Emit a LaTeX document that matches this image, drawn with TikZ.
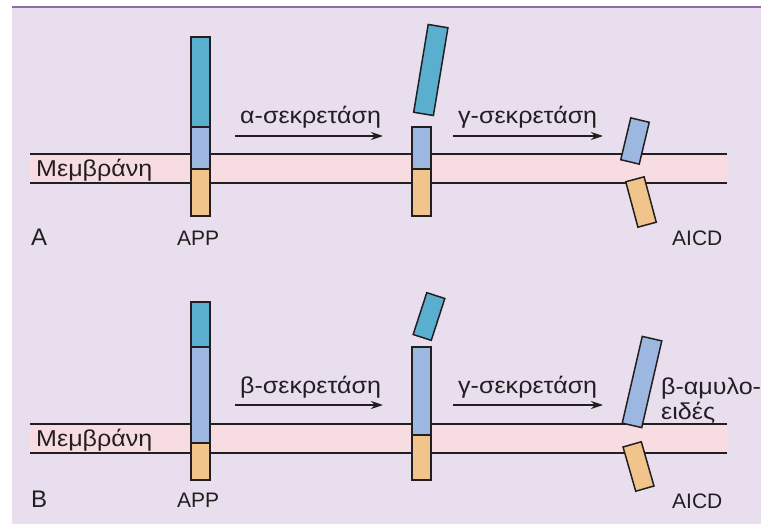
\documentclass[tikz,border=0pt]{standalone}
\usepackage{fontspec}
\setmainfont{Liberation Sans}
\newfontfamily\grkfont[FakeStretch=1.09]{Liberation Sans}
\usetikzlibrary{arrows.meta}
\definecolor{bgc}{HTML}{E8DEEE}
\definecolor{topline}{HTML}{8E6AA8}
\definecolor{memc}{HTML}{F7DDE1}
\definecolor{dkblue}{HTML}{5AAFCF}
\definecolor{ltblue}{HTML}{9DB8E0}
\definecolor{orng}{HTML}{F0C48A}
\definecolor{ink}{HTML}{231F20}
\tikzset{
  seg/.style={draw=ink, line width=1.5pt, inner sep=0pt, outer sep=0pt, minimum width=19pt},
  frag/.style={seg, minimum width=19pt},
  lbl/.style={text=ink, font=\fontsize{21}{25}\selectfont, inner sep=0pt, anchor=base west},
  glbl/.style={text=ink, font=\grkfont\fontsize{23}{25}\selectfont, inner sep=0pt, anchor=base west},
  panel/.style={text=ink, font=\fontsize{24}{28}\selectfont, inner sep=0pt, anchor=base west},
  memline/.style={draw=ink, line width=1.5pt},
  proc/.style={draw=ink, line width=1.6pt, -{Stealth[length=12pt,width=8pt]}}
}
\begin{document}
\begin{tikzpicture}[x=1pt,y=-1pt]
\useasboundingbox (0,0) rectangle (761,524);
\fill[bgc] (12,7) rectangle (761,524);
\draw[topline, line width=1.5pt] (12,7) -- (761,7);

% ---------- Panel A ----------
\fill[memc] (30,154) rectangle (727,183);
\draw[memline] (30,154) coordinate (amt1) -- (727,154) coordinate (amt2);
\draw[memline] (30,183) coordinate (amb1) -- (727,183) coordinate (amb2);
\node[glbl] (memA) at (36,177) {Μεμβράνη};

% APP A
\node[seg, fill=dkblue, minimum height=90pt] (a1d) at (200.5,82) {};
\node[seg, fill=ltblue, minimum height=42pt] (a1l) at (200.5,148) {};
\node[seg, fill=orng, minimum height=47pt] (a1o) at (200.5,192.5) {};
\node[lbl] (appA) at (177,245) {APP};
\node[panel] (pA) at (31,245) {A};

% arrow alpha
\coordinate (aa1) at (235,136);
\coordinate (aa2) at (383,136);
\draw[proc] (aa1) -- (aa2);
\node[glbl] (alphaA) at (240,124) {α-σεκρετάση};

% middle A
\node[frag, fill=dkblue, minimum width=20pt, minimum height=89pt, rotate=-9.4] (a2d) at (430.8,70) {};
\node[seg, fill=ltblue, minimum height=42pt] (a2l) at (421.5,148) {};
\node[seg, fill=orng, minimum height=47pt] (a2o) at (421.5,192.5) {};

% arrow gamma A
\coordinate (ga1) at (453,136);
\coordinate (ga2) at (603,136);
\draw[proc] (ga1) -- (ga2);
\node[glbl] (gammaA) at (458,124) {γ-σεκρετάση};

% AICD A
\node[frag, fill=ltblue, minimum height=43pt, rotate=-13.5] (a3l) at (635,141) {};
\node[frag, fill=orng, minimum height=47pt, rotate=15] (a3o) at (641,202) {};
\node[lbl] (aicdA) at (672,245) {AICD};

% ---------- Panel B ----------
\fill[memc] (30,424) rectangle (727,453);
\draw[memline] (30,424) coordinate (bmt1) -- (727,424) coordinate (bmt2);
\draw[memline] (30,453) coordinate (bmb1) -- (727,453) coordinate (bmb2);
\node[glbl] (memB) at (36,446) {Μεμβράνη};

% APP B
\node[seg, fill=dkblue, minimum height=45pt] (b1d) at (200.5,324.5) {};
\node[seg, fill=ltblue, minimum height=96pt] (b1l) at (200.5,395) {};
\node[seg, fill=orng, minimum height=37pt] (b1o) at (200.5,461.5) {};
\node[lbl] (appB) at (177,507) {APP};
\node[panel] (pB) at (31,507) {B};

% arrow beta
\coordinate (ba1) at (235,405);
\coordinate (ba2) at (383,405);
\draw[proc] (ba1) -- (ba2);
\node[glbl] (betaB) at (240,393) {β-σεκρετάση};

% middle B
\node[frag, fill=dkblue, minimum height=44pt, rotate=-18] (b2d) at (429,316.5) {};
\node[seg, fill=ltblue, minimum height=88pt] (b2l) at (421.5,391) {};
\node[seg, fill=orng, minimum height=45pt] (b2o) at (421.5,457.5) {};

% arrow gamma B
\coordinate (gb1) at (453,405);
\coordinate (gb2) at (603,405);
\draw[proc] (gb1) -- (gb2);
\node[glbl] (gammaB) at (458,393) {γ-σεκρετάση};

% beta-amyloid and AICD B
\node[frag, fill=ltblue, minimum width=20pt, minimum height=89pt, rotate=-13] (b3l) at (642,382) {};
\node[frag, fill=orng, minimum height=46pt, rotate=16] (b3o) at (638.5,466.5) {};
\node[glbl] (amyl1) at (661,394) {β-αμυλο-};
\node[glbl] (amyl2) at (661,419) {ειδές};
\node[lbl] (aicdB) at (672,508) {AICD};
\end{tikzpicture}
\end{document}
